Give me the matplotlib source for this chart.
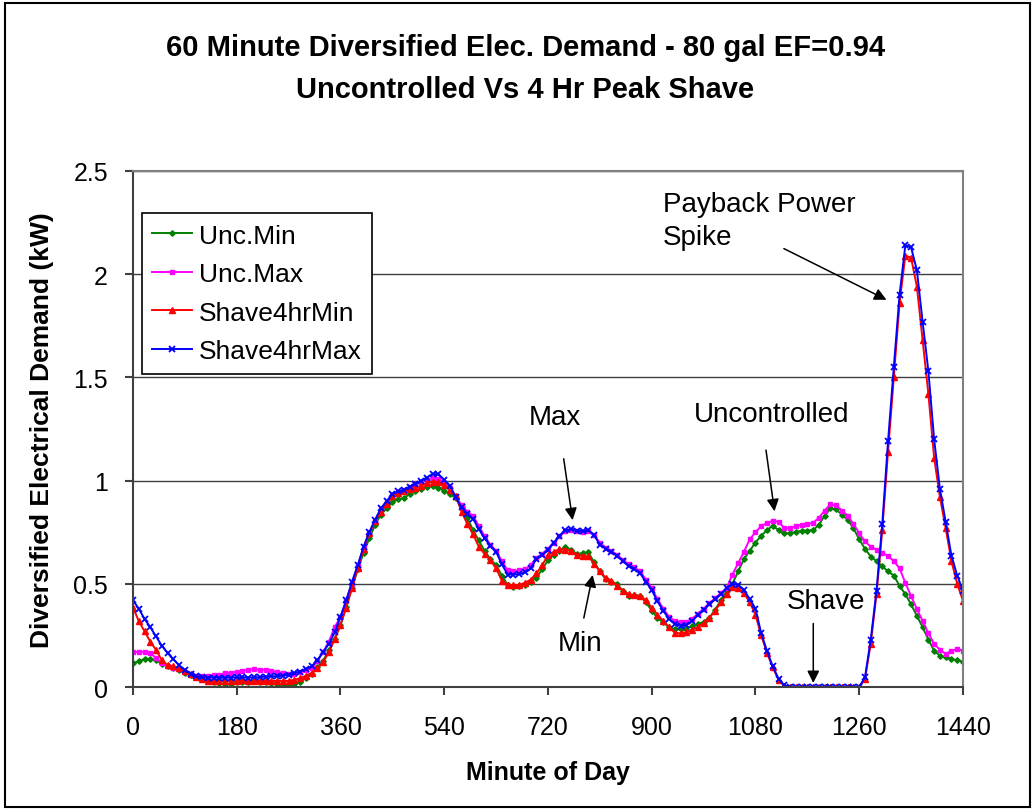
import numpy as np
import matplotlib
matplotlib.use("Agg")
import matplotlib.pyplot as plt
from matplotlib.patches import Rectangle

plt.rcParams['font.family'] = ['Liberation Sans', 'DejaVu Sans']

# minute of day, one reading every 10 minutes
minutes = np.arange(0, 1441, 10)

unc_min = [
    0.115, 0.125, 0.135, 0.136, 0.13, 0.112, 0.10, 0.092, 0.08, 0.07, 0.058, 0.047,
    0.04, 0.034, 0.025, 0.018, 0.013, 0.015, 0.022, 0.025, 0.026, 0.027, 0.026, 0.022,
    0.02, 0.016, 0.012, 0.011, 0.015, 0.025, 0.045, 0.065, 0.095, 0.128, 0.18, 0.235,
    0.30, 0.39, 0.48, 0.57, 0.65, 0.72, 0.785, 0.835, 0.865, 0.895, 0.91, 0.915,
    0.935, 0.95, 0.96, 0.97, 0.975, 0.965, 0.95, 0.935, 0.915, 0.87, 0.82, 0.76,
    0.71, 0.66, 0.62, 0.59, 0.54, 0.495, 0.485, 0.49, 0.495, 0.51, 0.53, 0.57,
    0.615, 0.64, 0.66, 0.677, 0.665, 0.645, 0.648, 0.652, 0.605, 0.56, 0.523, 0.51,
    0.499, 0.465, 0.44, 0.445, 0.44, 0.41, 0.37, 0.335, 0.313, 0.29, 0.28, 0.281,
    0.283, 0.295, 0.305, 0.315, 0.335, 0.375, 0.42, 0.465, 0.50, 0.56, 0.62, 0.66,
    0.70, 0.733, 0.76, 0.782, 0.76, 0.745, 0.745, 0.752, 0.757, 0.758, 0.76, 0.785,
    0.83, 0.865, 0.86, 0.835, 0.81, 0.77, 0.715, 0.67, 0.632, 0.61, 0.585, 0.56,
    0.54, 0.49, 0.45, 0.40, 0.345, 0.29, 0.23, 0.175, 0.152, 0.145, 0.135, 0.13,
    0.123,
]

unc_max = [
    0.17, 0.17, 0.17, 0.165, 0.14, 0.115, 0.10, 0.094, 0.085, 0.072, 0.062, 0.055,
    0.052, 0.053, 0.056, 0.06, 0.067, 0.07, 0.074, 0.078, 0.083, 0.085, 0.084, 0.083,
    0.078, 0.074, 0.068, 0.063, 0.065, 0.072, 0.08, 0.092, 0.125, 0.17, 0.22, 0.29,
    0.34, 0.42, 0.50, 0.585, 0.675, 0.745, 0.805, 0.86, 0.895, 0.93, 0.945, 0.955,
    0.97, 0.985, 0.995, 1.005, 1.012, 1.01, 0.99, 0.965, 0.925, 0.88, 0.85, 0.83,
    0.78, 0.73, 0.69, 0.66, 0.61, 0.565, 0.56, 0.565, 0.57, 0.59, 0.625, 0.645,
    0.67, 0.70, 0.73, 0.755, 0.76, 0.755, 0.752, 0.755, 0.735, 0.70, 0.675, 0.66,
    0.64, 0.615, 0.595, 0.58, 0.56, 0.52, 0.48, 0.425, 0.38, 0.34, 0.32, 0.315,
    0.315, 0.33, 0.355, 0.38, 0.405, 0.43, 0.455, 0.48, 0.545, 0.60, 0.655, 0.715,
    0.75, 0.78, 0.795, 0.805, 0.80, 0.77, 0.77, 0.78, 0.785, 0.79, 0.795, 0.82,
    0.855, 0.885, 0.88, 0.855, 0.83, 0.79, 0.745, 0.705, 0.68, 0.665, 0.65, 0.635,
    0.61, 0.575, 0.505, 0.44, 0.378, 0.32, 0.26, 0.21, 0.18, 0.16, 0.175, 0.184,
    0.176,
]

shave_min = [
    0.385, 0.32, 0.27, 0.22, 0.18, 0.13, 0.105, 0.10, 0.09, 0.079, 0.063, 0.047,
    0.038, 0.031, 0.03, 0.029, 0.03, 0.03, 0.03, 0.032, 0.03, 0.028, 0.03, 0.03,
    0.029, 0.03, 0.028, 0.03, 0.035, 0.042, 0.055, 0.068, 0.09, 0.12, 0.17, 0.233,
    0.30, 0.385, 0.48, 0.575, 0.668, 0.745, 0.805, 0.85, 0.885, 0.925, 0.94, 0.948,
    0.958, 0.965, 0.975, 0.988, 0.995, 0.993, 0.978, 0.955, 0.925, 0.85, 0.79, 0.74,
    0.68, 0.645, 0.615, 0.575, 0.515, 0.495, 0.494, 0.494, 0.505, 0.52, 0.55, 0.59,
    0.64, 0.655, 0.668, 0.665, 0.66, 0.64, 0.635, 0.633, 0.598, 0.56, 0.53, 0.515,
    0.49, 0.467, 0.45, 0.445, 0.442, 0.42, 0.385, 0.35, 0.32, 0.29, 0.263, 0.26,
    0.265, 0.278, 0.29, 0.31, 0.335, 0.37, 0.41, 0.45, 0.483, 0.48, 0.455, 0.41,
    0.35, 0.25, 0.165, 0.095, 0.035, 0.005, 0, 0, 0, 0, 0, 0,
    0, 0, 0, 0, 0, 0, 0, 0.04, 0.21, 0.45, 0.76, 1.14,
    1.50, 1.86, 2.09, 2.08, 1.94, 1.68, 1.42, 1.11, 0.92, 0.77, 0.61, 0.50,
    0.418,
]

shave_max = [
    0.42, 0.38, 0.33, 0.29, 0.245, 0.20, 0.165, 0.135, 0.105, 0.08, 0.065, 0.052,
    0.048, 0.046, 0.046, 0.045, 0.045, 0.046, 0.047, 0.047, 0.046, 0.047, 0.048, 0.05,
    0.052, 0.052, 0.055, 0.06, 0.068, 0.075, 0.088, 0.10, 0.13, 0.17, 0.21, 0.265,
    0.34, 0.42, 0.51, 0.59, 0.68, 0.75, 0.81, 0.865, 0.90, 0.935, 0.948, 0.955,
    0.97, 0.985, 1.0, 1.015, 1.032, 1.03, 1.005, 0.975, 0.92, 0.87, 0.84, 0.815,
    0.765, 0.72, 0.685, 0.655, 0.595, 0.545, 0.545, 0.547, 0.555, 0.575, 0.62, 0.64,
    0.665, 0.70, 0.73, 0.76, 0.765, 0.757, 0.755, 0.76, 0.735, 0.69, 0.67, 0.655,
    0.635, 0.61, 0.585, 0.57, 0.55, 0.51, 0.47, 0.415, 0.37, 0.33, 0.305, 0.297,
    0.30, 0.32, 0.35, 0.375, 0.40, 0.425, 0.45, 0.48, 0.50, 0.495, 0.47, 0.426,
    0.38, 0.26, 0.175, 0.10, 0.04, 0.008, 0, 0, 0, 0, 0, 0,
    0, 0, 0, 0, 0, 0, 0, 0.047, 0.23, 0.467, 0.79, 1.19,
    1.55, 1.90, 2.14, 2.13, 2.02, 1.77, 1.53, 1.20, 0.96, 0.80, 0.636, 0.54,
    0.467,
]

series_names = ["Unc.Min", "Unc.Max", "Shave4hrMin", "Shave4hrMax"]
x_ticks = [0, 180, 360, 540, 720, 900, 1080, 1260, 1440]
y_ticks = [0, 0.5, 1, 1.5, 2, 2.5]
y_tick_labels = ["0", "0.5", "1", "1.5", "2", "2.5"]

fig = plt.figure(figsize=(10.34, 8.12), dpi=100)
ax = fig.add_axes([0.1286, 0.1527, 0.8027, 0.6355])

ax.plot(minutes, unc_min, color="#008000", lw=1.4, marker="D", ms=2.8, label=series_names[0])
ax.plot(minutes, unc_max, color="#FF00FF", lw=1.4, marker="s", ms=2.8, label=series_names[1])
ax.plot(minutes, shave_min, color="#FF0000", lw=1.4, marker="^", ms=3.8, label=series_names[2])
ax.plot(minutes, shave_max, color="#0000FF", lw=1.4, marker="x", ms=4.0, mew=1.3, label=series_names[3])

ax.set_xlim(0, 1440)
ax.set_ylim(0, 2.5)
ax.set_xticks(x_ticks)
ax.set_yticks(y_ticks)
ax.set_yticklabels(y_tick_labels)
ax.yaxis.grid(True, color="#404040", lw=1)
ax.set_axisbelow(True)

for side in ["left", "bottom"]:
    ax.spines[side].set_color("#404040")
    ax.spines[side].set_linewidth(1.5)
for side in ["top", "right"]:
    ax.spines[side].set_color("#808080")
    ax.spines[side].set_linewidth(1.5)

ax.tick_params(direction="out", length=6, width=1.5, color="#404040", labelsize=18)
ax.tick_params(axis="x", pad=14)
ax.tick_params(axis="y", pad=12)

ax.set_xlabel("Minute of Day", fontsize=18, fontweight="bold")
ax.xaxis.label.set_va("center")
ax.xaxis.set_label_coords(0.5, -0.165)
ax.set_ylabel("Diversified Electrical Demand (kW)", fontsize=19, fontweight="bold")
ax.yaxis.label.set_va("center")
ax.yaxis.set_label_coords(-0.11, 0.5)

fig.text(0.508, 0.915, "60 Minute Diversified Elec. Demand - 80 gal EF=0.94\nUncontrolled Vs 4 Hr Peak Shave",
         ha="center", va="center", fontsize=21, fontweight="bold", linespacing=1.6)

leg = ax.legend(loc="upper left", bbox_to_anchor=(0.0108, 0.9186), borderaxespad=0,
                fontsize=19, frameon=True, fancybox=False, framealpha=1,
                edgecolor="black", handlelength=1.5, handletextpad=0.25,
                labelspacing=0.55, borderpad=0.4)
leg.get_frame().set_linewidth(1.2)

arrow = dict(arrowstyle="-|>", color="black", lw=1.1, mutation_scale=18)
ax.text(732, 1.308, "Max", fontsize=20, ha="center", va="center")
ax.annotate("", xy=(763.4, 0.795), xytext=(746.6, 1.119), arrowprops=arrow)
ax.text(775.5, 0.213, "Min", fontsize=20, ha="center", va="center")
ax.annotate("", xy=(798.5, 0.556), xytext=(781.2, 0.321), arrowprops=arrow)
ax.text(1108.6, 1.323, "Uncontrolled", fontsize=20, ha="center", va="center")
ax.annotate("", xy=(1113.7, 0.838), xytext=(1097.6, 1.161), arrowprops=arrow)
ax.text(1202.3, 0.418, "Shave", fontsize=20, ha="center", va="center")
ax.annotate("", xy=(1180.3, 0.006), xytext=(1180.3, 0.321), arrowprops=arrow)
ax.text(919.5, 2.258, "Payback Power\nSpike", fontsize=20, ha="left", va="center", linespacing=1.35)
ax.annotate("", xy=(1311.6, 1.87), xytext=(1125, 2.13), arrowprops=arrow)

fig.add_artist(Rectangle((5 / 1034, 4 / 812), 1025 / 1034, 804 / 812, transform=fig.transFigure,
                         fill=False, edgecolor="black", lw=1.5))

fig.savefig("out.png", dpi=100)
